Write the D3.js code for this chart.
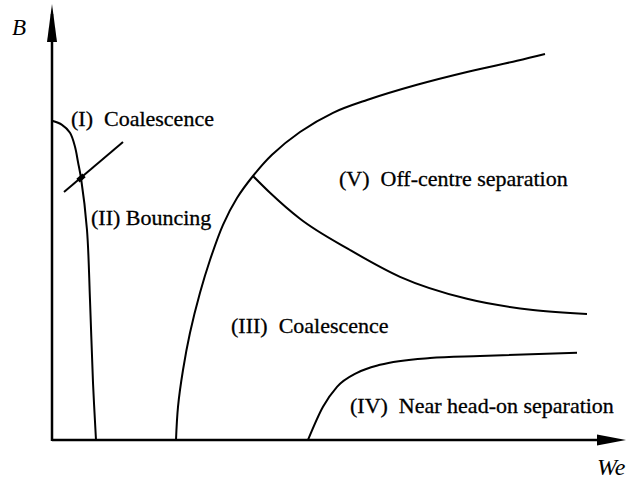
<!DOCTYPE html>
<html>
<head>
<meta charset="utf-8">
<script src="https://cdn.jsdelivr.net/npm/d3@7"></script>
<style>
  html, body { margin: 0; padding: 0; background: #fff; }
</style>
</head>
<body>
<div id="chart"></div>
<script>
// schematic regime boundaries (We, B in arbitrary units)
var boundaryI_II = [[0, 79.8], [2, 78.8], [3.6, 76.8], [4.6, 73.3], [5.2, 69.5], [5.8, 65.5],
  [7, 52.5], [7.6, 35], [8.2, 14.3], [8.8, 0]];
var bouncingLine = [[2.4, 62], [14.2, 74.5]];
var boundaryII_III_V = [[24.8, 0], [25.2, 8.3], [26.2, 17.5], [27.6, 26.8], [29.6, 36.8], [31.6, 45],
  [34.2, 53.8], [37, 60.5], [40.2, 66], [44, 71.3], [49.6, 77], [56.2, 81.8], [63, 85],
  [73, 88.8], [83, 92], [93, 94.8], [98.6, 96.5]];
var boundaryIII_V = [[40.2, 66], [43.6, 61.8], [49.6, 55.3], [59.6, 47.5], [69.6, 40.8],
  [83, 35.3], [96.2, 32.5], [107, 31.5]];
var boundaryIII_IV = [[51.2, 0], [54.2, 8.3], [57, 13.3], [61, 16.8], [65.6, 18.8],
  [75.6, 20.5], [85.6, 21], [105, 21.8]];

var regionNames = ["(I)  Coalescence", "(II) Bouncing", "(III)  Coalescence",
  "(IV)  Near head-on separation", "(V)  Off-centre separation"];
var axisNames = ["We", "B"];

var width = 626, height = 484;
var serif = "'Liberation Serif', 'DejaVu Serif', 'Noto Serif', Tinos, 'Times New Roman', Times, serif";

var svg = d3.select("#chart")
  .append("svg")
  .attr("width", width)
  .attr("height", height);

// 0..115 along We, 0..100 along B
var x = d3.scaleLinear().domain([0, 115]).range([52, 627]);
var y = d3.scaleLinear().domain([0, 100]).range([440, 40]);

function boundary(curve) {
  return d3.line()
    .x(function(d) { return x(d[0]); })
    .y(function(d) { return y(d[1]); })
    .curve(curve);
}
var steep = boundary(d3.curveCatmullRom.alpha(0.5));
var flat = boundary(d3.curveMonotoneX);

// axes with arrow heads
var xEnd = 114.8, yEnd = 109;
svg.append("line")
  .attr("x1", x(0)).attr("y1", y(0))
  .attr("x2", x(xEnd) - 10).attr("y2", y(0))
  .attr("stroke", "#000").attr("stroke-width", 2.5);
svg.append("line")
  .attr("x1", x(0)).attr("y1", y(0) + 1)
  .attr("x2", x(0)).attr("y2", y(yEnd) + 10)
  .attr("stroke", "#000").attr("stroke-width", 2.5);

svg.append("path")
  .attr("d", "M" + x(xEnd) + "," + y(0) + "L" + (x(xEnd) - 29) + "," + (y(0) - 5.5) +
    "L" + (x(xEnd) - 29) + "," + (y(0) + 5.5) + "Z")
  .attr("fill", "#000");
svg.append("path")
  .attr("d", "M" + x(0) + "," + y(yEnd) + "L" + (x(0) - 5) + "," + (y(yEnd) + 38) +
    "L" + (x(0) + 5) + "," + (y(yEnd) + 38) + "Z")
  .attr("fill", "#000");

// boundaries
[[boundaryI_II, steep], [boundaryII_III_V, steep], [boundaryIII_V, flat], [boundaryIII_IV, flat]]
  .forEach(function(b) {
    svg.append("path")
      .attr("d", b[1](b[0]))
      .attr("fill", "none")
      .attr("stroke", "#000")
      .attr("stroke-width", 2);
  });

svg.append("path")
  .attr("d", boundary(d3.curveLinear)(bouncingLine))
  .attr("fill", "none")
  .attr("stroke", "#000")
  .attr("stroke-width", 2);

// little thick mark where the bouncing line cuts the boundary
var cx = x(5.8), cy = y(65.5);
svg.append("line")
  .attr("x1", cx - 3).attr("y1", cy + 2.6)
  .attr("x2", cx + 3).attr("y2", cy - 2.6)
  .attr("stroke", "#000").attr("stroke-width", 5);

// region labels (anchor points in We, B units)
var labelAt = [[3.8, 78.5], [7.8, 53.8], [35.8, 26.8], [59.6, 6.8], [57.4, 63.5]];
svg.append("g")
  .selectAll("text")
  .data(regionNames)
  .enter()
  .append("text")
  .attr("x", function(d, i) { return x(labelAt[i][0]); })
  .attr("y", function(d, i) { return y(labelAt[i][1]); })
  .attr("font-family", serif)
  .attr("font-size", "22px")
  .attr("fill", "#000")
  .attr("stroke", "#000")
  .attr("stroke-width", 0.3)
  .style("white-space", "pre")
  .text(function(d) { return d; });

// axis names
svg.append("text")
  .attr("x", 597).attr("y", 475)
  .attr("font-family", serif)
  .attr("font-size", "24px")
  .attr("font-style", "italic")
  .text(axisNames[0]);
svg.append("text")
  .attr("x", 12).attr("y", 35)
  .attr("font-family", serif)
  .attr("font-size", "23px")
  .attr("font-style", "italic")
  .text(axisNames[1]);
</script>
</body>
</html>
